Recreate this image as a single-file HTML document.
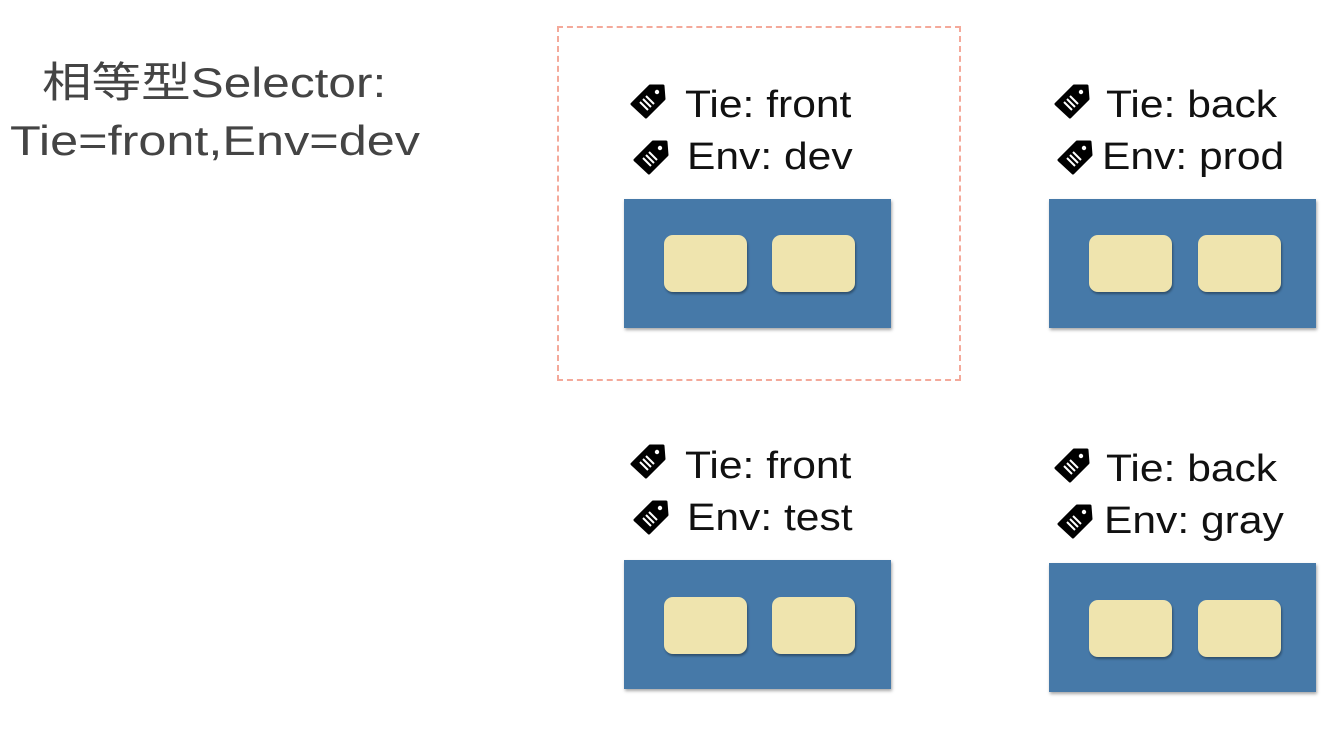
<!DOCTYPE html>
<html><head><meta charset="utf-8"><style>
body{margin:0;width:1330px;height:740px;background:#fff;position:relative;overflow:hidden;font-family:"Liberation Sans","Noto Sans CJK SC",sans-serif}
.t{position:absolute;font-size:38px;color:#111;white-space:nowrap;line-height:1;transform:scaleX(1.12);transform-origin:0 0}
.blue{position:absolute;width:267px;height:129px;background:#4679a8;box-shadow:1px 2px 3px rgba(0,0,0,.35)}
.y{position:absolute;width:83px;height:57px;background:#efe4ae;border-radius:9px;top:36px;box-shadow:1px 2px 2px rgba(0,0,0,.35)}
.tag{position:absolute;width:36px;height:36px}
</style></head><body>
<div style="position:absolute;left:557px;top:26px;width:400px;height:351px;border:2px dashed #f4a99a"></div>
<div class="t" style="left:42px;top:62px;font-size:42px;color:#444;transform:scaleX(1.18)">相等型Selector:</div>
<div class="t" style="left:10px;top:120px;font-size:42px;color:#444;transform:scaleX(1.2)">Tie=front,Env=dev</div>

<svg width="0" height="0" style="position:absolute"><defs><g id="tg"><path d="M2 20 L20 2 L33 2 L34 15 L16 33 Z" fill="#000" stroke="#000" stroke-width="3" stroke-linejoin="round"/><circle cx="27" cy="8" r="2.2" fill="#fff"/><path d="M10 18 L18 26 M13 15 L21 23 M16 12 L24 20" stroke="#fff" stroke-width="2"/></g></defs></svg>

<svg class="tag" style="left:630px;top:84px"><use href="#tg"/></svg>
<div class="t" style="left:685px;top:86px">Tie: front</div>
<svg class="tag" style="left:633px;top:140px"><use href="#tg"/></svg>
<div class="t" style="left:687px;top:138px">Env: dev</div>
<div class="blue" style="left:624px;top:199px"><div class="y" style="left:40px"></div><div class="y" style="left:148px"></div></div>

<svg class="tag" style="left:1054px;top:84px"><use href="#tg"/></svg>
<div class="t" style="left:1106px;top:86px">Tie: back</div>
<svg class="tag" style="left:1057px;top:140px"><use href="#tg"/></svg>
<div class="t" style="left:1102px;top:138px">Env: prod</div>
<div class="blue" style="left:1049px;top:199px"><div class="y" style="left:40px"></div><div class="y" style="left:149px"></div></div>

<svg class="tag" style="left:630px;top:444px"><use href="#tg"/></svg>
<div class="t" style="left:685px;top:447px">Tie: front</div>
<svg class="tag" style="left:633px;top:500px"><use href="#tg"/></svg>
<div class="t" style="left:687px;top:499px">Env: test</div>
<div class="blue" style="left:624px;top:560px"><div class="y" style="left:40px;top:37px"></div><div class="y" style="left:148px;top:37px"></div></div>

<svg class="tag" style="left:1054px;top:448px"><use href="#tg"/></svg>
<div class="t" style="left:1106px;top:450px">Tie: back</div>
<svg class="tag" style="left:1057px;top:504px"><use href="#tg"/></svg>
<div class="t" style="left:1104px;top:502px">Env: gray</div>
<div class="blue" style="left:1049px;top:563px"><div class="y" style="left:40px;top:37px"></div><div class="y" style="left:149px;top:37px"></div></div>
</body></html>
